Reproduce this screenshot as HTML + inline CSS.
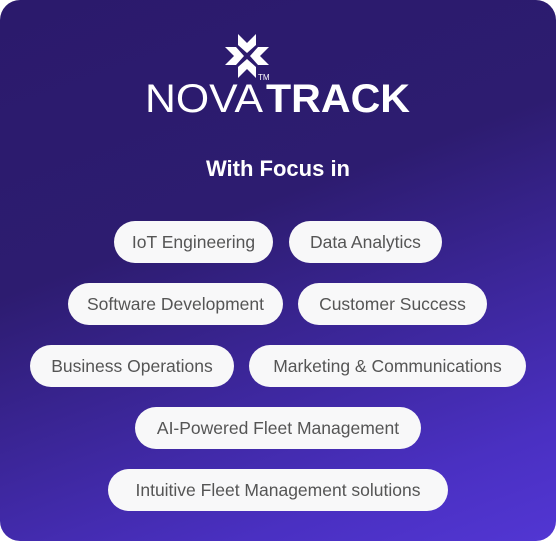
<!DOCTYPE html>
<html><head><style>
html,body{margin:0;padding:0;background:#fff;}
#c{position:relative;width:556px;height:541px;border-radius:20px;overflow:hidden;
background:linear-gradient(160deg,#2b1a6c 0%,#2d1c70 40%,#4a30c2 85%,#5236d3 100%);
font-family:"Liberation Sans",sans-serif;}
.p{position:absolute;height:42px;line-height:42px;border-radius:21px;background:#f8f8f9;color:#555;font-size:17.5px;text-align:center;white-space:nowrap;}
</style></head><body>
<div id="c">
<svg width="556" height="541" style="position:absolute;left:0;top:0">
<g fill="#fff" transform="translate(247,56)">
<polygon points="-9,-22 0,-13 9,-22 9,-11 0,-3 -9,-11"/>
<polygon points="-9,22 0,13 9,22 9,11 0,3 -9,11"/>
<polygon points="-22,-9 -13,0 -22,9 -11,9 -3,0 -11,-9"/>
<polygon points="22,-9 13,0 22,9 11,9 3,0 11,-9"/>
</g>
<text x="258" y="80" fill="#fff" font-size="8" font-family="Liberation Sans">TM</text>
<text x="145" y="112" fill="#fff" font-size="40" textLength="118" lengthAdjust="spacingAndGlyphs" font-family="Liberation Sans" style="font-weight:100">NOVA</text>
<text x="266" y="112" fill="#fff" font-size="40" font-weight="bold" textLength="144" lengthAdjust="spacingAndGlyphs" font-family="Liberation Sans">TRACK</text>
<text x="278" y="176" fill="#fff" font-size="22" font-weight="bold" text-anchor="middle" font-family="Liberation Sans">With Focus in</text>
</svg>
<div class="p" style="left:114px;top:221px;width:159px">IoT Engineering</div>
<div class="p" style="left:289px;top:221px;width:153px">Data Analytics</div>
<div class="p" style="left:68px;top:283px;width:215px">Software Development</div>
<div class="p" style="left:298px;top:283px;width:189px">Customer Success</div>
<div class="p" style="left:30px;top:345px;width:204px">Business Operations</div>
<div class="p" style="left:249px;top:345px;width:277px">Marketing &amp; Communications</div>
<div class="p" style="left:135px;top:407px;width:286px">AI-Powered Fleet Management</div>
<div class="p" style="left:108px;top:469px;width:340px">Intuitive Fleet Management solutions</div>
</div>
</body></html>
